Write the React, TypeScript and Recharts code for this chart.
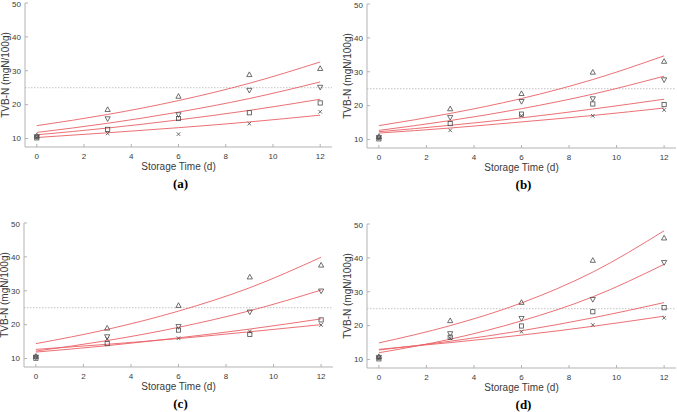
import React from 'react';
import { ComposedChart, Line, Scatter, XAxis, YAxis, ReferenceLine, Label } from 'recharts';

const days = [0, 3, 6, 9, 12];
const xTicks = [0, 2, 4, 6, 8, 10, 12];
const yTicks = [10, 20, 30, 40, 50];
const limit = 25;

// (a) observed
const aTri = [10.8, 18.6, 22.5, 28.9, 30.7];
const aDown = [10.5, 15.8, 17.0, 24.2, 25.1];
const aSquare = [10.2, 12.7, 15.9, 17.6, 20.5];
const aCross = [10.4, 11.5, 11.3, 14.4, 17.9];
// (a) fitted
const aFitTri = [13.8, 17.1, 21.2, 26.3, 32.6];
const aFitDown = [11.8, 14.5, 17.8, 21.8, 26.7];
const aFitSquare = [11.1, 13.1, 15.5, 18.3, 21.6];
const aFitCross = [10.3, 11.7, 13.2, 14.9, 16.9];

// (b)
const bTri = [10.9, 19.1, 23.6, 29.9, 33.1];
const bDown = [10.6, 16.5, 21.2, 22.0, 27.6];
const bSquare = [10.2, 14.7, 17.5, 20.5, 20.3];
const bCross = [10.4, 12.7, 17.0, 17.0, 18.7];
const bFitTri = [14.1, 17.7, 22.1, 27.7, 34.7];
const bFitDown = [12.7, 15.6, 19.1, 23.4, 28.7];
const bFitSquare = [12.3, 14.2, 16.4, 19.0, 21.9];
const bFitCross = [11.9, 13.4, 15.2, 17.1, 19.3];

// (c)
const cTri = [10.7, 19.0, 25.7, 34.1, 37.6];
const cDown = [10.4, 16.4, 19.4, 23.7, 29.9];
const cSquare = [10.1, 14.4, 18.4, 17.1, 21.4];
const cCross = [10.5, 15.8, 16.0, 18.0, 19.9];
const cFitTri = [14.4, 18.6, 24.0, 30.9, 39.9];
const cFitDown = [12.2, 15.3, 19.2, 24.1, 30.2];
const cFitSquare = [11.9, 13.8, 16.1, 18.7, 21.7];
const cFitCross = [12.7, 14.2, 15.9, 17.9, 20.0];

// (d)
const dTri = [10.9, 21.5, 26.9, 39.3, 45.9];
const dDown = [10.6, 17.6, 22.1, 27.7, 38.6];
const dSquare = [10.2, 16.6, 19.9, 24.1, 25.3];
const dCross = [10.4, 16.3, 18.2, 20.2, 22.3];
const dFitTri = [14.9, 20.0, 26.7, 35.8, 48.0];
const dFitDown = [12.0, 16.0, 21.4, 28.5, 38.1];
const dFitSquare = [12.8, 15.4, 18.5, 22.3, 26.8];
const dFitCross = [13.0, 15.0, 17.2, 19.8, 22.8];

const FONT = '"Liberation Sans", Arial, Helvetica, sans-serif';
const SERIF = '"Liberation Serif", "Times New Roman", serif';
const RED = '#ea6064';
const MARK = '#4a4a4a';
const FRAME = '#b3b3b3';
const TEXT = '#3a3a3a';

function buildRows(tri, down, sq, cross, fTri, fDown, fSq, fCross) {
  return days.map((t, i) => ({
    t,
    tri: tri[i],
    down: down[i],
    sq: sq[i],
    cross: cross[i],
    fTri: fTri[i],
    fDown: fDown[i],
    fSq: fSq[i],
    fCross: fCross[i],
  }));
}

function Marker({ cx, cy, kind }: any) {
  if (cx == null || cy == null) return null;
  const s = 2.6;
  const common = { fill: 'none', stroke: MARK, strokeWidth: 0.8 };
  if (kind === 'tri')
    return <polygon points={`${cx},${cy - s} ${cx - s},${cy + s * 0.8} ${cx + s},${cy + s * 0.8}`} {...common} />;
  if (kind === 'down')
    return <polygon points={`${cx},${cy + s} ${cx - s},${cy - s * 0.8} ${cx + s},${cy - s * 0.8}`} {...common} />;
  if (kind === 'sq') return <rect x={cx - 2.1} y={cy - 2.1} width={4.2} height={4.2} {...common} />;
  return (
    <path d={`M${cx - 1.8},${cy - 1.8}L${cx + 1.8},${cy + 1.8}M${cx - 1.8},${cy + 1.8}L${cx + 1.8},${cy - 1.8}`} {...common} />
  );
}

const xTitle = (tag: string) => (props: any) => {
  const { x, y, width } = props.viewBox;
  const cx = x + width / 2;
  return (
    <g>
      <text x={cx} y={y + 23} textAnchor="middle" fontSize={10} fill={TEXT} fontFamily={FONT}>
        Storage Time (d)
      </text>
      <text x={cx + 2} y={y + 40.5} textAnchor="middle" fontSize={13} fontWeight="bold" fill="#000" fontFamily={SERIF}>
        {tag}
      </text>
    </g>
  );
};

const yTitle = (props: any) => {
  const { x, y, width, height } = props.viewBox;
  const tx = x + width - 16;
  const ty = y + height / 2;
  return (
    <text x={tx} y={ty} transform={`rotate(-90, ${tx}, ${ty})`} textAnchor="middle" fontSize={10} fill={TEXT} fontFamily={FONT}>
      TVB-N (mgN/100g)
    </text>
  );
};

function Panel({ rows, tag, left, top, width, yWidth, marginRight }: any) {
  const tickStyle = { fill: TEXT, fontSize: 8, fontFamily: FONT };
  return (
    <div style={{ position: 'absolute', left, top }}>
      <ComposedChart width={width} height={192} data={rows} margin={{ top: 3, right: marginRight, bottom: 0, left: 0 }}>
        <XAxis
          dataKey="t"
          type="number"
          domain={[-0.5, 12.5]}
          ticks={xTicks}
          allowDataOverflow
          height={45}
          tickSize={-3}
          tickMargin={9}
          stroke={FRAME}
          tick={tickStyle}
        >
          <Label content={xTitle(tag)} />
        </XAxis>
        <XAxis
          xAxisId="top"
          orientation="top"
          type="number"
          domain={[-0.5, 12.5]}
          ticks={xTicks}
          allowDataOverflow
          height={0}
          tickSize={-3}
          tick={false}
          stroke={FRAME}
        />
        <YAxis
          type="number"
          domain={[7.5, 50]}
          ticks={yTicks}
          allowDataOverflow
          width={yWidth}
          tickSize={-3}
          tickMargin={7}
          stroke={FRAME}
          tick={tickStyle}
        >
          <Label content={yTitle} />
        </YAxis>
        <YAxis
          yAxisId="right"
          orientation="right"
          type="number"
          domain={[7.5, 50]}
          ticks={yTicks}
          allowDataOverflow
          width={0}
          tickSize={-3}
          tick={false}
          stroke={FRAME}
        />
        <ReferenceLine y={limit} stroke="#c4c4c4" strokeDasharray="1.5 1.5" />
        <Line dataKey="fTri" type="monotone" stroke={RED} strokeWidth={0.9} dot={false} activeDot={false} isAnimationActive={false} />
        <Line dataKey="fDown" type="monotone" stroke={RED} strokeWidth={0.9} dot={false} activeDot={false} isAnimationActive={false} />
        <Line dataKey="fSq" type="monotone" stroke={RED} strokeWidth={0.9} dot={false} activeDot={false} isAnimationActive={false} />
        <Line dataKey="fCross" type="monotone" stroke={RED} strokeWidth={0.9} dot={false} activeDot={false} isAnimationActive={false} />
        <Scatter dataKey="tri" shape={(p: any) => <Marker {...p} kind="tri" />} isAnimationActive={false} />
        <Scatter dataKey="down" shape={(p: any) => <Marker {...p} kind="down" />} isAnimationActive={false} />
        <Scatter dataKey="sq" shape={(p: any) => <Marker {...p} kind="sq" />} isAnimationActive={false} />
        <Scatter dataKey="cross" shape={(p: any) => <Marker {...p} kind="cross" />} isAnimationActive={false} />
      </ComposedChart>
    </div>
  );
}

const rowsA = buildRows(aTri, aDown, aSquare, aCross, aFitTri, aFitDown, aFitSquare, aFitCross);
const rowsB = buildRows(bTri, bDown, bSquare, bCross, bFitTri, bFitDown, bFitSquare, bFitCross);
const rowsC = buildRows(cTri, cDown, cSquare, cCross, cFitTri, cFitDown, cFitSquare, cFitCross);
const rowsD = buildRows(dTri, dDown, dSquare, dCross, dFitTri, dFitDown, dFitSquare, dFitCross);

export default function App() {
  return (
    <div style={{ position: 'absolute', left: 0, top: 0, width: 677, height: 412, overflow: 'hidden', background: '#fff' }}>
      <Panel rows={rowsA} tag="(a)" left={0} top={0} width={338} yWidth={25} marginRight={6} />
      <Panel rows={rowsB} tag="(b)" left={342} top={1} width={335} yWidth={25} marginRight={1} />
      <Panel rows={rowsC} tag="(c)" left={0} top={220} width={339} yWidth={24} marginRight={6} />
      <Panel rows={rowsD} tag="(d)" left={342} top={221} width={335} yWidth={25} marginRight={1} />
    </div>
  );
}
